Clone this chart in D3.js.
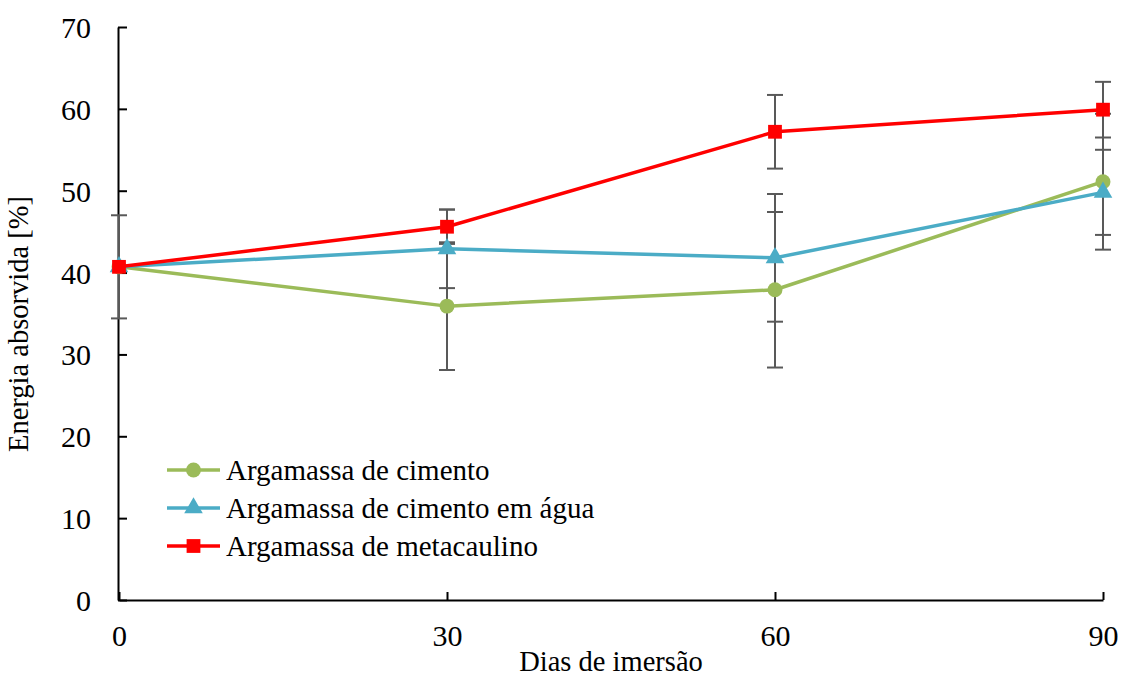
<!DOCTYPE html>
<html>
<head>
<meta charset="utf-8">
<script src="https://cdn.jsdelivr.net/npm/d3@7"></script>
<style>
  html, body { margin: 0; padding: 0; background: #fff; }
  svg { display: block; font-family: "Liberation Serif", "Times New Roman", serif; }
  svg text { font-family: "Liberation Serif", "Times New Roman", serif; fill: #000; }
</style>
</head>
<body>
<svg id="chart" width="1126" height="678"></svg>
<script>
// Immersion days on the x axis
const days = [0, 30, 60, 90];

// Absorbed energy (%) per series, with standard deviation for the error bars
const cimento        = [40.7, 35.9, 37.9, 51.1];
const cimentoErr     = [0,    7.8,  9.5,  8.3];
const cimentoAgua    = [40.7, 42.9, 41.8, 49.8];
const cimentoAguaErr = [0,    4.8,  7.8,  5.2];
const metacaulino    = [40.7, 45.6, 57.2, 59.9];
const metacaulinoErr = [6.3,  2.1,  4.5,  3.4];

const seriesNames = ["Argamassa de cimento", "Argamassa de cimento em água", "Argamassa de metacaulino"];
const xTicks = [0, 30, 60, 90];
const yTicks = [0, 10, 20, 30, 40, 50, 60, 70];

const series = [
  { name: seriesNames[0], values: cimento, errs: cimentoErr, color: "#9BBB59", symbol: d3.symbolCircle, size: 175 },
  { name: seriesNames[1], values: cimentoAgua, errs: cimentoAguaErr, color: "#4BACC6", symbol: d3.symbolTriangle, size: 150 },
  { name: seriesNames[2], values: metacaulino, errs: metacaulinoErr, color: "#FF0000", symbol: d3.symbolSquare, size: 190 }
];

const svg = d3.select("#chart");
const margin = { left: 118, right: 23, top: 27, bottom: 78 };
const W = 1126, H = 678;

const x = d3.scaleLinear().domain([0, 90]).range([margin.left + 1, W - margin.right]);
const y = d3.scaleLinear().domain([0, 70]).range([H - margin.bottom, margin.top]);

// Axes: ticks point inward, labels outside
const xAxis = svg.append("g")
  .attr("transform", `translate(0,${y(0)})`)
  .call(d3.axisBottom(x).tickValues(xTicks).tickSizeInner(-8).tickSizeOuter(0).tickPadding(25));
const yAxis = svg.append("g")
  .attr("transform", `translate(${x(0) - 1},0)`)
  .call(d3.axisLeft(y).tickValues(yTicks).tickSizeInner(-9).tickSizeOuter(0).tickPadding(27));

[xAxis, yAxis].forEach(g => {
  g.attr("font-family", null).attr("font-size", null);
  g.select(".domain").attr("stroke", "#000").attr("stroke-width", 2);
  g.selectAll(".tick line").attr("stroke", "#000").attr("stroke-width", 2);
  g.selectAll(".tick text").attr("fill", "#000").style("font-size", "30px");
});
xAxis.selectAll(".tick text").attr("dy", "0.71em");
yAxis.selectAll(".tick text").attr("dy", "0.35em");

// Axis titles
svg.append("text")
  .attr("x", (x(0) + x(90)) / 2).attr("y", 671)
  .attr("text-anchor", "middle").style("font-size", "28.5px")
  .text("Dias de imersão");
svg.append("text")
  .attr("transform", `translate(28,324) rotate(-90)`)
  .attr("text-anchor", "middle").style("font-size", "28.5px")
  .text("Energia absorvida [%]");

// Error bars
const capW = 8;
series.forEach(s => {
  const g = svg.append("g");
  days.forEach((d, i) => {
    if (!s.errs[i]) return;
    const cx = x(d), hi = y(s.values[i] + s.errs[i]), lo = y(s.values[i] - s.errs[i]);
    g.append("line").attr("x1", cx).attr("x2", cx).attr("y1", hi).attr("y2", lo)
      .attr("stroke", "#595959").attr("stroke-width", 2);
    [hi, lo].forEach(yy => g.append("line")
      .attr("x1", cx - capW).attr("x2", cx + capW).attr("y1", yy).attr("y2", yy)
      .attr("stroke", "#595959").attr("stroke-width", 2));
  });
});

// Lines and markers
const line = d3.line().x((d, i) => x(days[i])).y(d => y(d));
series.forEach(s => {
  svg.append("path").datum(s.values).attr("d", line)
    .attr("fill", "none").attr("stroke", s.color).attr("stroke-width", 3.5)
    .attr("stroke-linejoin", "round");
  svg.selectAll(null).data(s.values).enter().append("path")
    .attr("d", d3.symbol().type(s.symbol).size(s.size))
    .attr("transform", (d, i) => `translate(${x(days[i])},${y(d)})`)
    .attr("fill", s.color);
});

// Legend
const legend = svg.append("g").attr("transform", "translate(167,470)");
series.forEach((s, i) => {
  const row = legend.append("g").attr("transform", `translate(0,${i * 38})`);
  row.append("line").attr("x1", 0).attr("x2", 53).attr("y1", 0).attr("y2", 0)
    .attr("stroke", s.color).attr("stroke-width", 3.5);
  row.append("path").attr("d", d3.symbol().type(s.symbol).size(s.size))
    .attr("transform", "translate(26.5,0)").attr("fill", s.color);
  row.append("text").attr("x", 59).attr("y", 0).attr("dy", "0.33em")
    .style("font-size", "29px").text(s.name);
});
</script>
</body>
</html>
